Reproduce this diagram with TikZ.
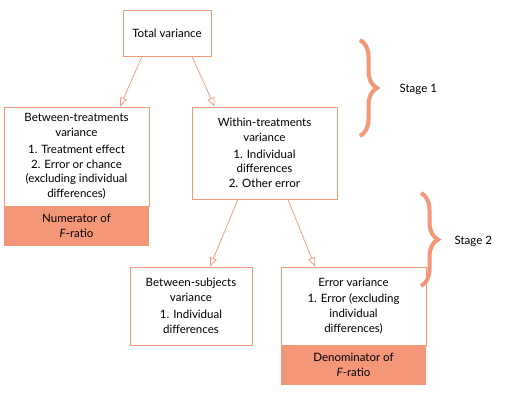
\documentclass[tikz,border=0pt]{standalone}
\usepackage{fontspec}
\setmainfont{Lato}
\usepackage{xcolor}
\usepackage{tikz}
\usetikzlibrary{positioning,arrows.meta,decorations.pathreplacing}
\definecolor{salmon}{RGB}{244,150,120}

\begin{document}
\begin{tikzpicture}[
  x=1pt, y=-1pt,
  every node/.style={font=\fontsize{11.5}{14.8}\selectfont},
  box/.style={rectangle, draw=salmon, line width=0.9pt, fill=white, minimum width=145pt, align=center, inner sep=2pt},
  ratio/.style={rectangle, fill=salmon, minimum width=145pt, minimum height=39pt, align=center, inner sep=0pt},
  arr/.style={-{Triangle[open, length=9pt, width=7pt]}, salmon, line width=0.7pt},
  stagebrace/.style={decorate, decoration={brace, amplitude=17pt}, salmon, line width=4pt}
]
\useasboundingbox (0,0) rectangle (506,402);
\node[box, minimum width=88pt, minimum height=46pt] (total) at (167,33) {Total variance};
\node[box, minimum height=99pt] (between) at (76.5,156.5) {Between-treatments\\variance\\[2pt] 1. Treatment effect\\2. Error or chance\\(excluding individual\\differences)};
\node[ratio, below=0pt of between] (num) {Numerator of\\\textit{F}-ratio};
\node[box, minimum height=92pt] (within) at (264.5,153) {Within-treatments\\variance\\[2pt] 1. Individual\\differences\\2. Other error};
\node[box, minimum width=122pt, minimum height=78pt] (betsub) at (191,306) {Between-subjects\\variance\\[2pt] 1. Individual\\differences};
\node[box, minimum height=78pt] (error) at (353.5,306) {Error variance\\[2pt] 1. Error (excluding\\individual\\differences)};
\node[ratio, below=0pt of error] (den) {Denominator of\\\textit{F}-ratio};

\draw[arr] ([xshift=-25pt]total.south) -- ([xshift=43.5pt]between.north);
\draw[arr] ([xshift=25pt]total.south) -- ([xshift=-50pt]within.north);
\draw[arr] ([xshift=-26.5pt]within.south) -- ([xshift=19pt]betsub.north);
\draw[arr] ([xshift=23.5pt]within.south) -- ([xshift=-38.5pt]error.north);

% stages
\coordinate (s1top) at (360,40);
\coordinate (s1bot) at (360,136);
\coordinate (s2top) at (421,193);
\coordinate (s2bot) at (421,286);
\draw[stagebrace] (s1top) -- (s1bot);
\draw[stagebrace] (s2top) -- (s2bot);
\node[anchor=west] (stage1) at (396,89) {Stage 1};
\node[anchor=west] (stage2) at (451,241) {Stage 2};
\end{tikzpicture}
\end{document}
